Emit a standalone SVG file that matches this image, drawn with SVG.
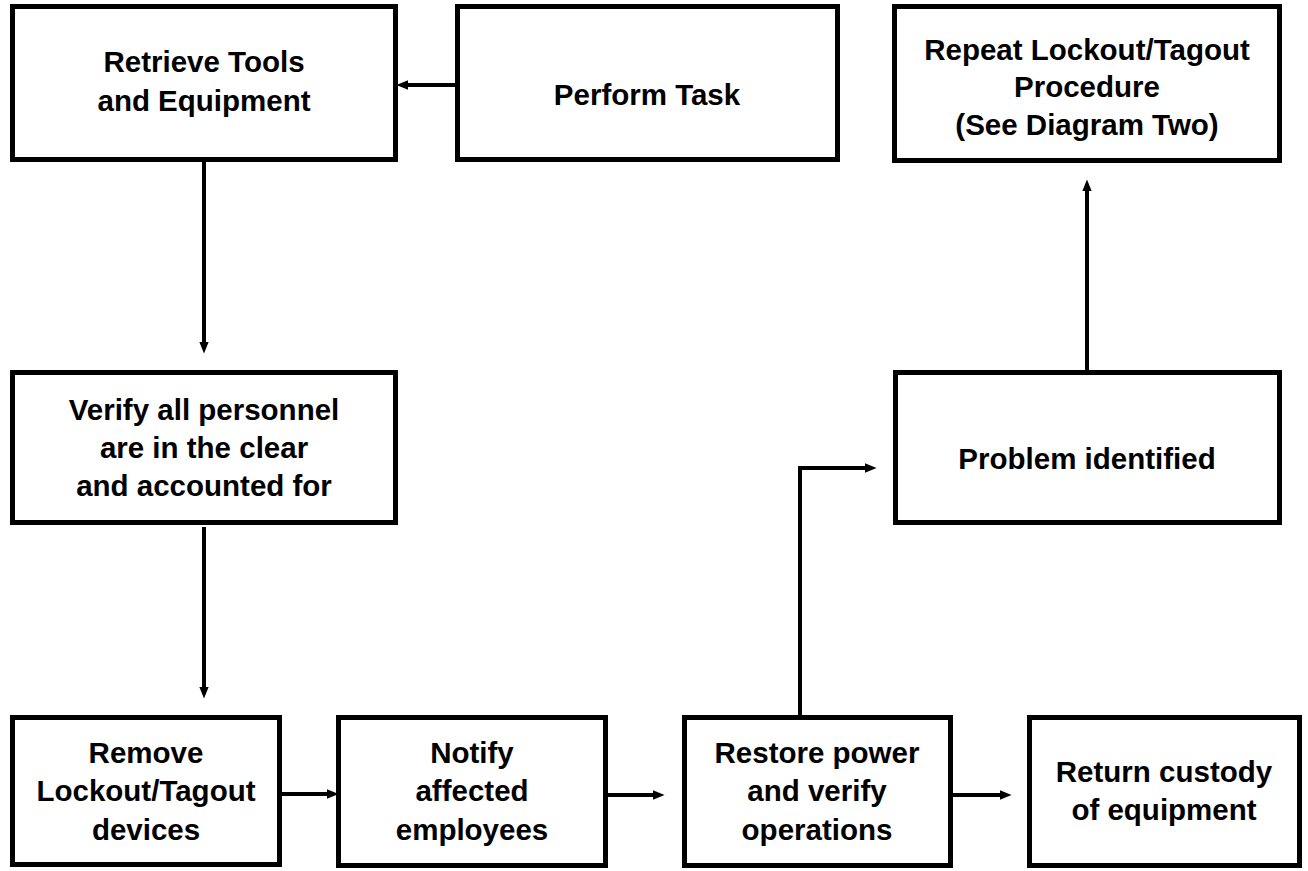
<svg xmlns="http://www.w3.org/2000/svg" width="1308" height="871" viewBox="0 0 1308 871">
<style>
.box{fill:#fff;stroke:#000;stroke-width:5}
.lbl{font-family:"Liberation Sans",Arial,sans-serif;font-weight:bold;font-size:29.5px;fill:#000;text-anchor:middle}
.con{fill:none;stroke:#000;stroke-width:4}
</style>
<defs>
<marker id="ah" markerUnits="userSpaceOnUse" markerWidth="12" markerHeight="10" refX="2" refY="4" orient="auto" viewBox="0 0 10 8">
<path d="M0,0 L10,4 L0,8 z" fill="#000"/>
</marker>
</defs>
<rect width="1308" height="871" fill="#fff"/>
<g id="connectors">
<path class="con" d="M455,85 H406" marker-end="url(#ah)"/>
<path class="con" d="M204,162 V344" marker-end="url(#ah)"/>
<path class="con" d="M204,527 V689" marker-end="url(#ah)"/>
<path class="con" d="M282,794 H329" marker-end="url(#ah)"/>
<path class="con" d="M608,795 H655" marker-end="url(#ah)"/>
<path class="con" d="M952,795 H1002" marker-end="url(#ah)"/>
<path class="con" d="M800,715 V468 H867" marker-end="url(#ah)"/>
<path class="con" d="M1087,370 V189" marker-end="url(#ah)"/>
</g>
<g id="retrieve">
<rect class="box" x="12.5" y="6.5" width="383" height="153"/>
<text class="lbl" x="204" y="72">Retrieve Tools</text>
<text class="lbl" x="204" y="111">and Equipment</text>
</g>
<g id="perform">
<rect class="box" x="457.5" y="6.5" width="380" height="153"/>
<text class="lbl" x="647" y="105">Perform Task</text>
</g>
<g id="repeat">
<rect class="box" x="894.5" y="6.5" width="385" height="154"/>
<text class="lbl" x="1087" y="60">Repeat Lockout/Tagout</text>
<text class="lbl" x="1087" y="97">Procedure</text>
<text class="lbl" x="1087" y="135">(See Diagram Two)</text>
</g>
<g id="verify">
<rect class="box" x="12.5" y="372.5" width="383" height="150"/>
<text class="lbl" x="204" y="420">Verify all personnel</text>
<text class="lbl" x="204" y="458">are in the clear</text>
<text class="lbl" x="204" y="496">and accounted for</text>
</g>
<g id="problem">
<rect class="box" x="895.5" y="372.5" width="384" height="150"/>
<text class="lbl" x="1087" y="469">Problem identified</text>
</g>
<g id="remove">
<rect class="box" x="12.5" y="717.5" width="267" height="147"/>
<text class="lbl" x="146" y="763">Remove</text>
<text class="lbl" x="146" y="801">Lockout/Tagout</text>
<text class="lbl" x="146" y="840">devices</text>
</g>
<g id="notify">
<rect class="box" x="338.5" y="717.5" width="267" height="148"/>
<text class="lbl" x="472" y="763">Notify</text>
<text class="lbl" x="472" y="801">affected</text>
<text class="lbl" x="472" y="840">employees</text>
</g>
<g id="restore">
<rect class="box" x="684.5" y="717.5" width="266" height="148"/>
<text class="lbl" x="817" y="763">Restore power</text>
<text class="lbl" x="817" y="801">and verify</text>
<text class="lbl" x="817" y="840">operations</text>
</g>
<g id="return">
<rect class="box" x="1029.5" y="717.5" width="270" height="148"/>
<text class="lbl" x="1164" y="782">Return custody</text>
<text class="lbl" x="1164" y="820">of equipment</text>
</g>
</svg>
